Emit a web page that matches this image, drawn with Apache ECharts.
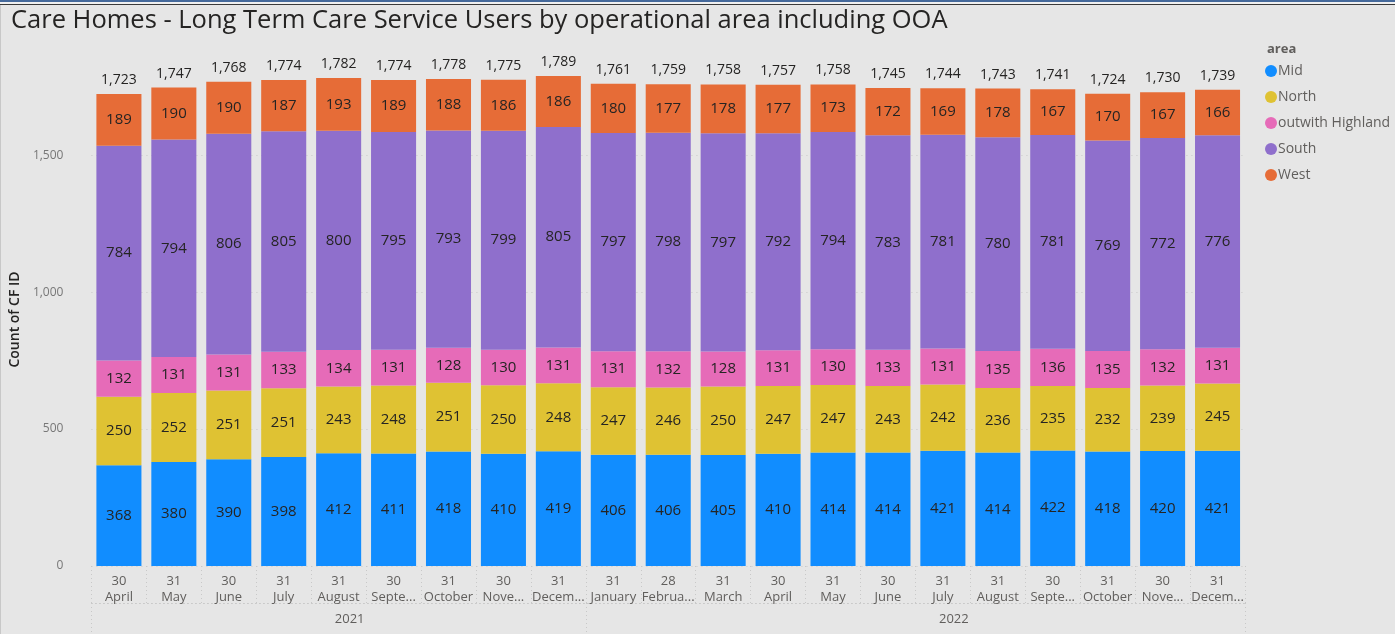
<!DOCTYPE html>
<html>
<head>
<meta charset="utf-8">
<script src="https://cdn.jsdelivr.net/npm/echarts@6/dist/echarts.min.js"></script>
<style>
    html, body { margin: 0; padding: 0; background: #e6e6e6; }
    #wrap { position: relative; width: 1395px; height: 634px; }
    #container { width: 1395px; height: 634px; }
    #topline { position: absolute; left: 0; top: 0; width: 1395px; height: 2px; background: #45699b;
               border-bottom: 2px solid #f0f0f0; }
    #topline2 { position: absolute; left: 0; top: 4px; width: 1395px; height: 1px; background: #3a3a3a; }
    #leftline { position: absolute; left: 0; top: 5px; width: 1px; height: 629px; background: #c8c8c8; }
</style>
</head>
<body>
<div id="wrap">
    <div id="container"></div>
    <div id="topline"></div>
    <div id="topline2"></div>
    <div id="leftline"></div>
</div>
<script type="text/javascript">
    var days = ['30', '31', '30', '31', '31', '30', '31', '30', '31', '31', '28', '31', '30', '31', '30', '31', '31', '30', '31', '30', '31'];
    var months = ['April', 'May', 'June', 'July', 'August', 'September', 'October', 'November', 'December',
        'January', 'February', 'March', 'April', 'May', 'June', 'July', 'August', 'September', 'October', 'November', 'December'];
    var years = ['2021', '2022'];
    var yearStart = [0, 9]; // index of first month in each year

    var mid = [368, 380, 390, 398, 412, 411, 418, 410, 419, 406, 406, 405, 410, 414, 414, 421, 414, 422, 418, 420, 421];
    var north = [250, 252, 251, 251, 243, 248, 251, 250, 248, 247, 246, 250, 247, 247, 243, 242, 236, 235, 232, 239, 245];
    var outwith = [132, 131, 131, 133, 134, 131, 128, 130, 131, 131, 132, 128, 131, 130, 133, 131, 135, 136, 135, 132, 131];
    var south = [784, 794, 806, 805, 800, 795, 793, 799, 805, 797, 798, 797, 792, 794, 783, 781, 780, 781, 769, 772, 776];
    var west = [189, 190, 190, 187, 193, 189, 188, 186, 186, 180, 177, 178, 177, 173, 172, 169, 178, 167, 170, 167, 166];
    var totals = [1723, 1747, 1768, 1774, 1782, 1774, 1778, 1775, 1789, 1761, 1759, 1758, 1757, 1758, 1745, 1744, 1743, 1741, 1724, 1730, 1739];

    var areaNames = ['Mid', 'North', 'outwith Highland', 'South', 'West'];
    var areaColors = ['#118dff', '#dfc233', '#e66bb8', '#8f6fcc', '#e66c37'];
    var areaValues = [mid, north, outwith, south, west];

    var FONT = '"Open Sans", "Noto Sans", sans-serif';

    var categories = days.map(function (d, i) { return d + '\n' + months[i]; });

    function fmt(v) {
        return String(v).replace(/\B(?=(\d{3})+(?!\d))/g, ',');
    }

    var myChart = echarts.init(document.getElementById('container'));

    var series = areaNames.map(function (name, k) {
        return {
            name: name,
            type: 'bar',
            stack: 'total',
            barCategoryGap: '18%',
            itemStyle: { color: areaColors[k] },
            label: {
                show: true,
                position: 'inside',
                fontFamily: FONT,
                fontSize: 15,
                color: '#252423'
            },
            data: areaValues[k]
        };
    });

    // totals shown on top of each stack
    series.push({
        name: 'Total',
        type: 'bar',
        stack: 'total',
        barCategoryGap: '18%',
        itemStyle: { color: 'transparent' },
        label: {
            show: true,
            position: 'top',
            distance: 7,
            fontFamily: FONT,
            fontSize: 14,
            color: '#252423',
            formatter: function (p) { return fmt(totals[p.dataIndex]); }
        },
        tooltip: { show: false },
        data: totals.map(function () { return 0; })
    });

    var option = {
        backgroundColor: '#e6e6e6',
        animation: false,
        title: [{
            text: 'Care Homes - Long Term Care Service Users by operational area including OOA',
            left: 6,
            top: 3,
            textStyle: { fontFamily: FONT, fontSize: 25.5, fontWeight: 'normal', color: '#252423' }
        }, {
            text: 'area',
            left: 1262,
            top: 38,
            textStyle: { fontFamily: FONT, fontSize: 13, fontWeight: 'bold', color: '#605e5c' }
        }],
        legend: {
            data: areaNames,
            orient: 'vertical',
            left: 1260,
            top: 59,
            icon: 'circle',
            itemWidth: 12,
            itemHeight: 12,
            itemGap: 12,
            textStyle: { fontFamily: FONT, fontSize: 14, color: '#605e5c', padding: [0, 0, 0, -4] }
        },
        grid: { left: 90, right: 150, top: 73, bottom: 68, containLabel: false },
        xAxis: [{
            type: 'category',
            data: categories,
            axisLine: { show: false },
            axisTick: {
                show: true,
                length: 37,
                lineStyle: { color: '#c8c8c8', type: [1, 3] }
            },
            axisLabel: {
                interval: 0,
                margin: 7,
                fontFamily: FONT,
                fontSize: 13,
                lineHeight: 16,
                color: '#605e5c',
                width: 54,
                overflow: 'truncate',
                ellipsis: '...'
            }
        }, {
            type: 'value',
            position: 'bottom',
            offset: 37,
            min: -0.5,
            max: 20.5,
            splitLine: { show: false },
            axisLine: { show: true, lineStyle: { color: '#c8c8c8', type: [1, 3] } },
            axisTick: {
                show: true,
                length: 31,
                customValues: [-0.5, yearStart[1] - 0.5, 20.5],
                lineStyle: { color: '#c8c8c8', type: [1, 3] }
            },
            axisLabel: {
                customValues: [4.2, 15.2],
                margin: 10,
                fontFamily: FONT,
                fontSize: 13,
                color: '#605e5c',
                formatter: function (v) { return v < yearStart[1] ? years[0] : years[1]; }
            }
        }],
        yAxis: {
            type: 'value',
            min: 0,
            max: 1800,
            interval: 500,
            name: 'Count of CF ID',
            nameLocation: 'middle',
            nameGap: 68,
            nameTextStyle: { fontFamily: FONT, fontSize: 14, fontWeight: 600, color: '#252423' },
            axisLine: { show: false },
            axisTick: { show: false },
            axisLabel: {
                showMaxLabel: false,
                margin: 28,
                fontFamily: FONT,
                fontSize: 12,
                color: '#777777',
                formatter: function (v) { return fmt(v); }
            },
            splitLine: {
                show: true,
                lineStyle: {
                    color: ['#c8c8c8', '#c8c8c8', '#c8c8c8', '#c8c8c8', 'transparent'],
                    type: [1, 4]
                }
            }
        },
        series: series
    };

    myChart.setOption(option);
</script>
</body>
</html>
